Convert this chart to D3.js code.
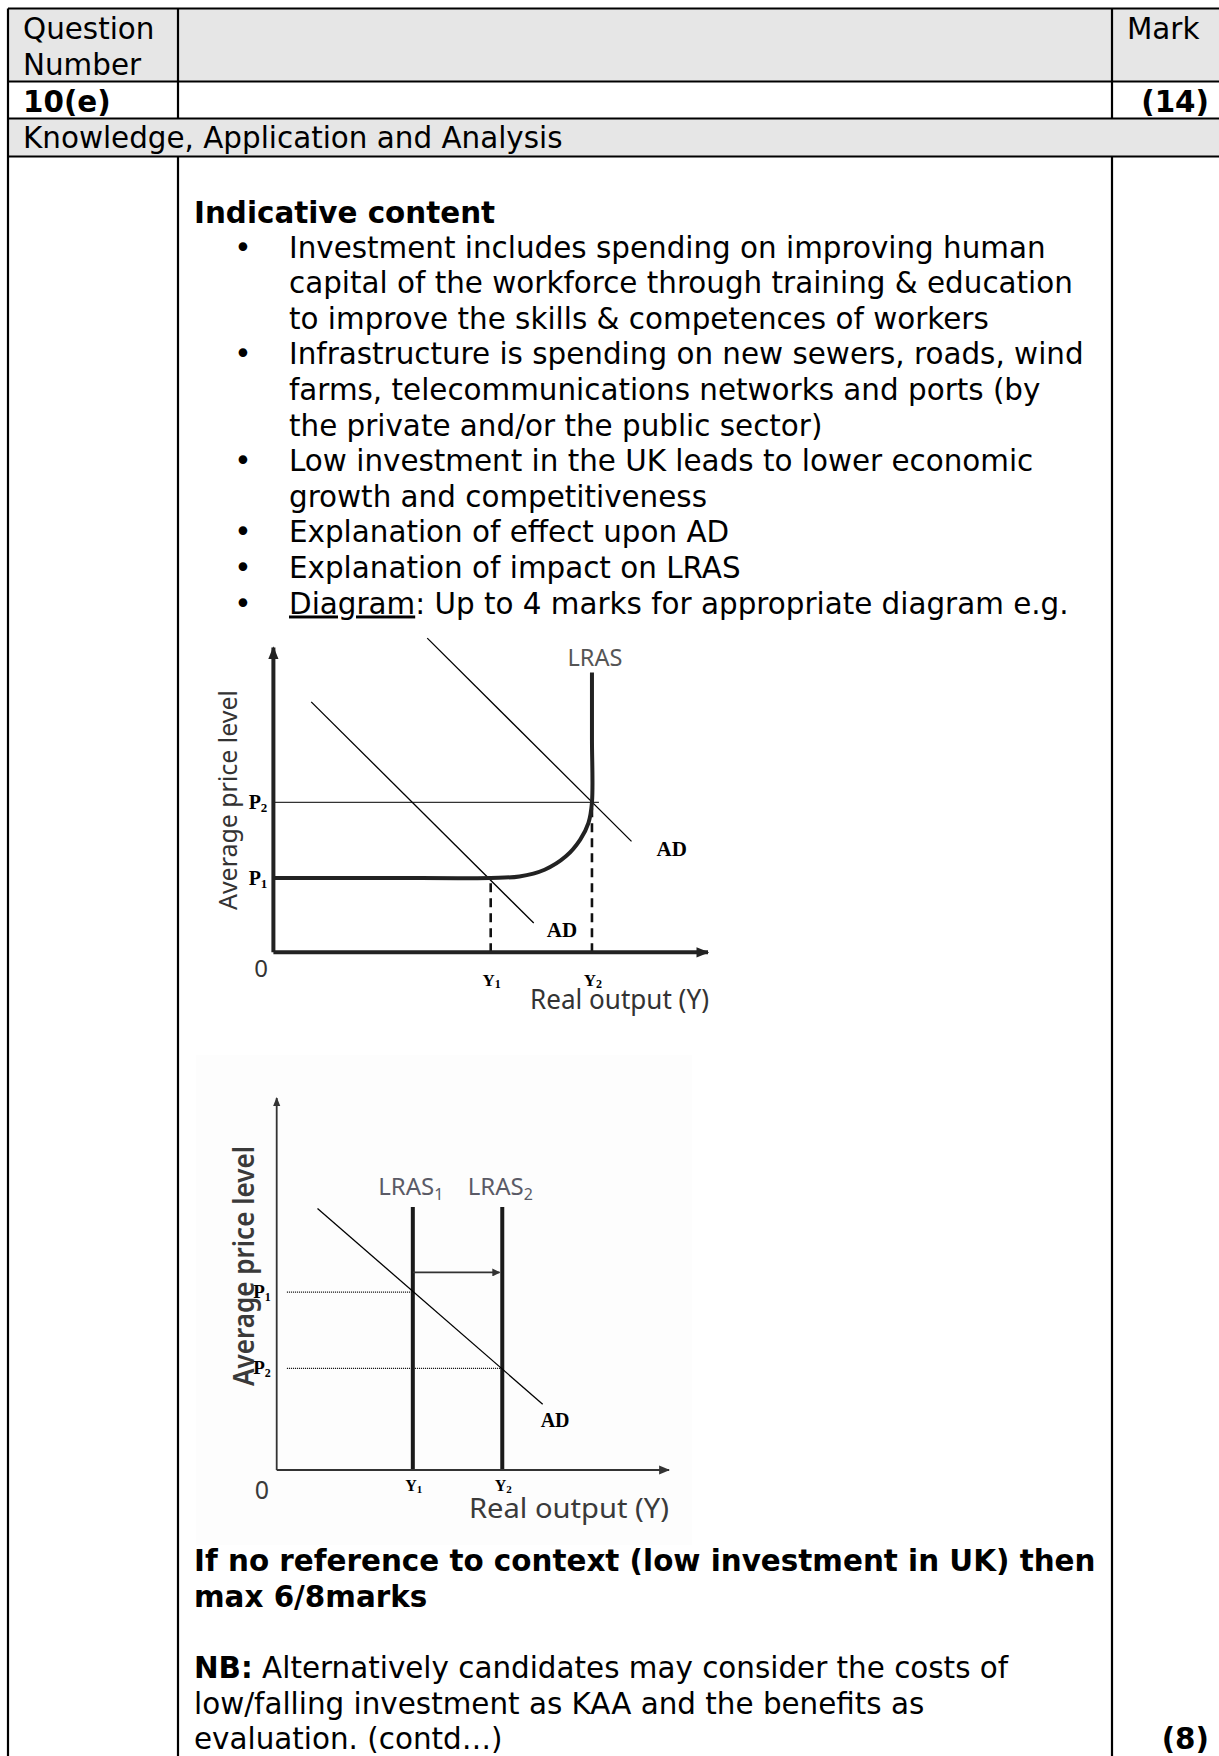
<!DOCTYPE html>
<html>
<head>
<meta charset="utf-8">
<script src="https://cdn.jsdelivr.net/npm/d3@7"></script>
<style>
  html, body { margin: 0; padding: 0; background: #fff; }
</style>
</head>
<body>
<div id="page"></div>
<script>
// mark scheme page: table + two AD/AS diagrams

const headerLabels = ['Question', 'Number'];
const markLabel = 'Mark';
const questionId = '10(e)';
const questionMarks = '(14)';
const sectionTitle = 'Knowledge, Application and Analysis';
const indicativeTitle = 'Indicative content';
const bulletLines = [
  ['Investment includes spending on improving human',
   'capital of the workforce through training & education',
   'to improve the skills & competences of workers'],
  ['Infrastructure is spending on new sewers, roads, wind',
   'farms, telecommunications networks and ports (by',
   'the private and/or the public sector)'],
  ['Low investment in the UK leads to lower economic',
   'growth and competitiveness'],
  ['Explanation of effect upon AD'],
  ['Explanation of impact on LRAS']
];
const diagramBullet = ['Diagram', ': Up to 4 marks for appropriate diagram e.g.'];
const contextNote = ['If no reference to context (low investment in UK) then', 'max 6/8marks'];
const nbNote = ['NB:', ' Alternatively candidates may consider the costs of',
  'low/falling investment as KAA and the benefits as', 'evaluation. (contd\u2026)'];
const sectionMarks = '(8)';

// diagram 1 (values on a 0-100 grid)
const d1Outputs = [50.0, 73.3];          // Y1, Y2
const d1Prices = [24.4, 49.2];           // P1, P2
const d1LrasTop = 91.8;
const d1AD = [
  [[8.7, 82.2], [59.9, 9.6]],
  [[35.4, 103.1], [82.4, 36.4]]
];
const d1AS = [[0, 24.4], [25, 24.4], [50, 24.4], [56.6, 24.9], [62.4, 27.1], [67.3, 31.5],
  [70.6, 37.0], [72.5, 42.5], [73.3, 49.2], [73.3, 70], [73.3, 91.8]];
const d1P2LineEnd = 74.9;

// diagram 2
const d2Lras = [34.7, 57.5];             // LRAS1, LRAS2 -> Y1, Y2
const d2LrasTop = 70.7;
const d2Prices = [47.8, 27.3];           // P1, P2
const d2AD = [[10.4, 70.3], [67.8, 17.7]];
const d2ShiftArrow = { y: 53.1, from: 34.7, to: 56.8 };
const d2DotStart = 2.6;

const W = 1219, H = 1756;
const svg = d3.select('#page').append('svg')
  .attr('width', W).attr('height', H)
  .attr('viewBox', `0 0 ${W} ${H}`);

const defs = svg.append('defs');
defs.append('marker')
  .attr('id', 'axisArrow').attr('viewBox', '0 0 10 10')
  .attr('refX', 9).attr('refY', 5)
  .attr('markerWidth', 3.2).attr('markerHeight', 3.2)
  .attr('orient', 'auto')
  .append('path').attr('d', 'M0,1 L10,5 L0,9 z').attr('fill', '#222');
defs.append('marker')
  .attr('id', 'shiftArrow').attr('viewBox', '0 0 10 10')
  .attr('refX', 9).attr('refY', 5)
  .attr('markerWidth', 9).attr('markerHeight', 8)
  .attr('markerUnits', 'userSpaceOnUse')
  .attr('orient', 'auto')
  .append('path').attr('d', 'M0,0 L10,5 L0,10 z').attr('fill', '#333');
defs.append('marker')
  .attr('id', 'axisArrow2').attr('viewBox', '0 0 10 10')
  .attr('refX', 9).attr('refY', 5)
  .attr('markerWidth', 5).attr('markerHeight', 5)
  .attr('orient', 'auto')
  .append('path').attr('d', 'M0,1 L10,5 L0,9 z').attr('fill', '#333');

// ---------- table ----------
const colX = [8, 178, 1112];
const rowY = [8.5, 81.5, 118.5, 156.5];
const gray = '#e6e6e6';

svg.append('rect').attr('x', colX[0]).attr('y', rowY[0]).attr('width', W).attr('height', rowY[1] - rowY[0]).attr('fill', gray);
svg.append('rect').attr('x', colX[0]).attr('y', rowY[2]).attr('width', W).attr('height', rowY[3] - rowY[2]).attr('fill', gray);

const grid = svg.append('g').attr('stroke', '#000').attr('stroke-width', 2.2);
rowY.forEach(y => grid.append('line').attr('x1', colX[0]).attr('x2', W).attr('y1', y).attr('y2', y));
grid.append('line').attr('x1', colX[0]).attr('x2', colX[0]).attr('y1', rowY[0]).attr('y2', H);
[colX[1], colX[2]].forEach(x => {
  grid.append('line').attr('x1', x).attr('x2', x).attr('y1', rowY[0]).attr('y2', rowY[2]);
  grid.append('line').attr('x1', x).attr('x2', x).attr('y1', rowY[3]).attr('y2', H);
});

const fs = 29.4;
const txt = svg.append('g').attr('font-size', fs).attr('fill', '#000')
  .attr('font-family', "'DejaVu Sans', Verdana, sans-serif");
headerLabels.forEach((t, i) => txt.append('text').attr('x', 23).attr('y', 39 + i * 36).text(t));
txt.append('text').attr('x', 1127).attr('y', 39).text(markLabel);
txt.append('text').attr('x', 23).attr('y', 112).attr('font-weight', 'bold').text(questionId);
txt.append('text').attr('x', 1209).attr('y', 112).attr('font-weight', 'bold').attr('text-anchor', 'end').text(questionMarks);
txt.append('text').attr('x', 23).attr('y', 148).text(sectionTitle);

// ---------- indicative content ----------
const lineH = 35.6;
const textX = 194, bulletX = 243, bulletTextX = 289;
txt.append('text').attr('x', textX).attr('y', 223).attr('font-weight', 'bold').text(indicativeTitle);

let lineNo = 0;
const lineY = n => 257.5 + n * lineH;
bulletLines.forEach(lines => {
  txt.append('text').attr('x', bulletX).attr('y', lineY(lineNo)).attr('text-anchor', 'middle').text('\u2022');
  lines.forEach(l => {
    txt.append('text').attr('x', bulletTextX).attr('y', lineY(lineNo)).text(l);
    lineNo++;
  });
});
txt.append('text').attr('x', bulletX).attr('y', lineY(lineNo)).attr('text-anchor', 'middle').text('\u2022');
const diagLine = txt.append('text').attr('x', bulletTextX).attr('y', lineY(lineNo));
diagLine.append('tspan').style('text-decoration', 'underline').text(diagramBullet[0]);
diagLine.append('tspan').text(diagramBullet[1]);

// ---------- diagram 1 ----------
const x1 = d3.scaleLinear().domain([0, 100]).range([273.4, 708]);
const y1 = d3.scaleLinear().domain([0, 100]).range([952.3, 647.6]);
const g1 = svg.append('g');
const line1 = d3.line().x(d => x1(d[0])).y(d => y1(d[1]));

// dotted P2 guide
g1.append('path').attr('d', line1([[0, d1Prices[1]], [d1P2LineEnd, d1Prices[1]]]))
  .attr('stroke', '#333').attr('stroke-width', 1.3).attr('fill', 'none');
// dashed output guides
d1Outputs.forEach((v, i) => {
  g1.append('path').attr('d', line1([[v, 0], [v, d1Prices[i]]]))
    .attr('stroke', '#111').attr('stroke-width', 2.6).attr('stroke-dasharray', '9,6').attr('fill', 'none');
});
// AD lines
d1AD.forEach(seg => {
  g1.append('path').attr('d', line1(seg)).attr('stroke', '#000').attr('stroke-width', 1.3).attr('fill', 'none');
});
// AS / LRAS
g1.append('path').attr('d', line1.curve(d3.curveCatmullRom.alpha(0.5))(d1AS))
  .attr('stroke', '#222').attr('stroke-width', 4).attr('fill', 'none');
line1.curve(d3.curveLinear);
// axes
g1.append('path').attr('d', line1([[0, 0], [0, 100]])).attr('stroke', '#222').attr('stroke-width', 4).attr('marker-end', 'url(#axisArrow)');
g1.append('path').attr('d', line1([[0, 0], [100, 0]])).attr('stroke', '#222').attr('stroke-width', 4).attr('marker-end', 'url(#axisArrow)');

const sansLbl = "'Noto Sans', 'Open Sans', sans-serif";
const serifLbl = "'Liberation Serif', 'DejaVu Serif', serif";
g1.append('text').attr('x', x1(d1Outputs[1]) + 3).attr('y', y1(d1LrasTop) - 7)
  .attr('text-anchor', 'middle').attr('font-family', sansLbl).attr('font-size', 24)
  .attr('fill', '#555').attr('textLength', 55).attr('lengthAdjust', 'spacingAndGlyphs').text('LRAS');
d1AD.forEach((seg, i) => {
  const end = seg[1];
  g1.append('text').attr('x', x1(end[0]) + (i === 0 ? 13 : 25)).attr('y', y1(end[1]) + (i === 0 ? 14 : 15))
    .attr('font-family', serifLbl).attr('font-weight', 'bold').attr('font-size', 21).text('AD');
});
d1Prices.forEach((v, i) => {
  const t = g1.append('text').attr('x', 258).attr('y', y1(v) + 7).attr('text-anchor', 'middle')
    .attr('font-family', serifLbl).attr('font-weight', 'bold').attr('font-size', 20);
  t.append('tspan').text('P');
  t.append('tspan').attr('font-size', 13).attr('dy', 3).text(i + 1);
});
d1Outputs.forEach((v, i) => {
  const t = g1.append('text').attr('x', x1(v) + 1).attr('y', 986).attr('text-anchor', 'middle')
    .attr('font-family', serifLbl).attr('font-weight', 'bold').attr('font-size', 17);
  t.append('tspan').text('Y');
  t.append('tspan').attr('font-size', 12).attr('dy', 2).text(i + 1);
});
g1.append('text').attr('x', 261).attr('y', 977).attr('text-anchor', 'middle')
  .attr('font-family', sansLbl).attr('font-size', 24).attr('fill', '#333').text('0');
g1.append('text').attr('x', 530).attr('y', 1009)
  .attr('font-family', sansLbl).attr('font-size', 27).attr('fill', '#333')
  .attr('textLength', 179).attr('lengthAdjust', 'spacingAndGlyphs').text('Real output (Y)');
g1.append('text').attr('transform', 'translate(237,800) rotate(-90)').attr('text-anchor', 'middle')
  .attr('font-family', sansLbl).attr('font-size', 26).attr('fill', '#333')
  .attr('textLength', 220).attr('lengthAdjust', 'spacingAndGlyphs').text('Average price level');

// ---------- diagram 2 ----------
const x2 = d3.scaleLinear().domain([0, 100]).range([276.7, 669]);
const y2 = d3.scaleLinear().domain([0, 100]).range([1470, 1098]);
const g2 = svg.append('g');
const line2 = d3.line().x(d => x2(d[0])).y(d => y2(d[1]));

g2.append('rect').attr('x', 196).attr('y', 1055).attr('width', 496).attr('height', 490)
  .attr('fill', '#fdfdfd');

d2Prices.forEach((v, i) => {
  g2.append('path').attr('d', line2([[d2DotStart, v], [d2Lras[i], v]]))
    .attr('stroke', '#000').attr('stroke-width', 1.3).attr('stroke-dasharray', '1,1').attr('fill', 'none');
});
d2Lras.forEach(v => {
  g2.append('path').attr('d', line2([[v, 0], [v, d2LrasTop]])).attr('stroke', '#1a1a1a').attr('stroke-width', 4);
});
g2.append('path').attr('d', line2([[d2ShiftArrow.from, d2ShiftArrow.y], [d2ShiftArrow.to, d2ShiftArrow.y]]))
  .attr('stroke', '#333').attr('stroke-width', 1.8).attr('marker-end', 'url(#shiftArrow)');
g2.append('path').attr('d', line2(d2AD)).attr('stroke', '#000').attr('stroke-width', 1.3).attr('fill', 'none');
g2.append('path').attr('d', line2([[0, 0], [0, 100]])).attr('stroke', '#333').attr('stroke-width', 1.8).attr('marker-end', 'url(#axisArrow2)');
g2.append('path').attr('d', line2([[0, 0], [100, 0]])).attr('stroke', '#333').attr('stroke-width', 2.2).attr('marker-end', 'url(#axisArrow2)');

g2.append('text').attr('transform', 'translate(254,1266) rotate(-90)').attr('text-anchor', 'middle')
  .attr('font-family', sansLbl).attr('font-size', 29).attr('font-weight', 600).attr('fill', '#3a3a3a')
  .attr('textLength', 240).attr('lengthAdjust', 'spacingAndGlyphs').text('Average price level');
d2Lras.forEach((v, i) => {
  const t = g2.append('text').attr('x', x2(v) - 2).attr('y', y2(d2LrasTop) - 12).attr('text-anchor', 'middle')
    .attr('font-family', sansLbl).attr('font-size', 24).attr('fill', '#5a5a66');
  t.append('tspan').text('LRAS');
  t.append('tspan').attr('font-size', 16).attr('dy', 5).text(i + 1);
});
d2Prices.forEach((v, i) => {
  const t = g2.append('text').attr('x', 262).attr('y', y2(v) + 6).attr('text-anchor', 'middle')
    .attr('font-family', serifLbl).attr('font-weight', 'bold').attr('font-size', 19);
  t.append('tspan').text('P');
  t.append('tspan').attr('font-size', 12).attr('dy', 3).text(i + 1);
});
g2.append('text').attr('x', x2(d2AD[1][0]) - 2).attr('y', y2(d2AD[1][1]) + 23)
  .attr('font-family', serifLbl).attr('font-weight', 'bold').attr('font-size', 20).text('AD');
d2Lras.forEach((v, i) => {
  const t = g2.append('text').attr('x', x2(v) + 1).attr('y', 1491).attr('text-anchor', 'middle')
    .attr('font-family', serifLbl).attr('font-weight', 'bold').attr('font-size', 16);
  t.append('tspan').text('Y');
  t.append('tspan').attr('font-size', 11).attr('dy', 2).text(i + 1);
});
g2.append('text').attr('x', 262).attr('y', 1499).attr('text-anchor', 'middle')
  .attr('font-family', sansLbl).attr('font-size', 25).attr('fill', '#3a3a3a').text('0');
g2.append('text').attr('x', 469).attr('y', 1518)
  .attr('font-family', sansLbl).attr('font-size', 28).attr('fill', '#3a3a3a')
  .attr('textLength', 200).attr('lengthAdjust', 'spacingAndGlyphs').text('Real output (Y)');

// ---------- notes ----------
const n1 = [1571, 1606.5];
contextNote.forEach((l, i) => txt.append('text').attr('x', textX).attr('y', n1[i]).attr('font-weight', 'bold').text(l));
const nbFirst = txt.append('text').attr('x', textX).attr('y', 1678);
nbFirst.append('tspan').attr('font-weight', 'bold').text(nbNote[0]);
nbFirst.append('tspan').text(nbNote[1]);
txt.append('text').attr('x', textX).attr('y', 1713.5).text(nbNote[2]);
txt.append('text').attr('x', textX).attr('y', 1749).text(nbNote[3]);
txt.append('text').attr('x', 1209).attr('y', 1749).attr('font-weight', 'bold').attr('text-anchor', 'end').text(sectionMarks);
</script>
</body>
</html>
